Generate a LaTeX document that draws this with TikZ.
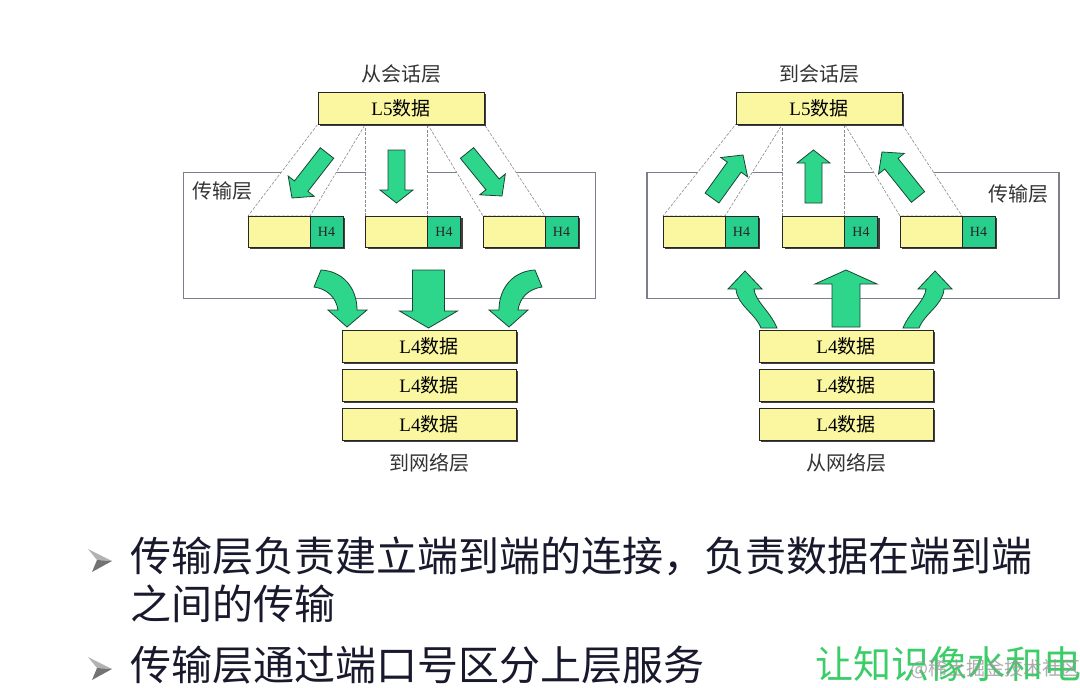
\documentclass[tikz,border=0pt]{standalone}
\usepackage{fontspec}
\setmainfont{Liberation Serif}
\newfontfamily\cjk{Noto Sans CJK SC}
\usetikzlibrary{calc, positioning, shadows, backgrounds}

\definecolor{boxyellow}{RGB}{250,247,160}
\definecolor{hdrgreen}{RGB}{40,206,140}
\definecolor{arrowgreen}{RGB}{46,214,140}
\definecolor{edgegreen}{RGB}{25,70,50}
\definecolor{layergray}{RGB}{125,125,140}
\definecolor{textnavy}{RGB}{25,25,45}
\definecolor{slogangreen}{RGB}{60,205,105}

\newcommand{\fatarrow}[5]{%
  \coordinate (fa) at ($(#2)!#5!(#1)$);
  \filldraw[fatgreen] ($(#1)!#3!90:(#2)$) -- ($(fa)!#3!-90:(#1)$) -- ($(fa)!#4!-90:(#1)$) -- (#2)
    -- ($(fa)!#4!90:(#1)$) -- ($(fa)!#3!90:(#1)$) -- ($(#1)!#3!-90:(#2)$) -- cycle;
}

\begin{document}
\begin{tikzpicture}[x=1pt, y=-1pt, node distance=0pt,
  databox/.style={draw=black!85, fill=boxyellow, line width=0.8pt, inner sep=0pt, outer sep=0pt,
    minimum height=32pt, font=\fontsize{19}{22}\selectfont,
    drop shadow={shadow xshift=2pt, shadow yshift=-2pt, fill=black!75, opacity=1}},
  partbox/.style={databox, minimum width=62pt, minimum height=31pt},
  hdrbox/.style={partbox, fill=hdrgreen, minimum width=33pt, font=\fontsize{14}{16}\selectfont, text=black!85},
  layerbox/.style={draw=layergray, line width=1.8pt, minimum width=412pt, minimum height=126pt, inner sep=0pt},
  lbl/.style={font=\cjk\fontsize{20}{24}\selectfont, text=black!80, inner sep=0pt},
  beam/.style={fill=white, draw=black!45, line width=0.6pt, dash pattern=on 3pt off 1.5pt},
  fatgreen/.style={fill=arrowgreen, draw=edgegreen, line width=0.8pt},
  bullettext/.style={font=\cjk\fontsize{41}{48}\selectfont, text=textnavy, inner sep=0pt, anchor=west},
  fallarrow/.pic={\filldraw[fatgreen] (0,0) -- (-19,-17) -- (-9,-17) .. controls (-11,-30) and (-20,-38) .. (-33,-40)
    -- (-26,-57) .. controls (-5,-56) and (10,-40) .. (10,-17) -- (20,-17) -- cycle;},
  risearrow/.pic={\filldraw[fatgreen] (0,0) -- (17,18) -- (9,18) .. controls (10,30) and (25,40) .. (32,57)
    -- (16,57) .. controls (10,42) and (-8,34) .. (-9,18) -- (-17,18) -- cycle;},
  bulletmark/.pic={\fill[black!30] (0,0) -- (24,12) -- (9,11) -- cycle;
    \fill[black!55] (9,11) -- (24,12) -- (4,23) -- cycle;}
]
\useasboundingbox (0,0) rectangle (1080,688);

\node[databox, minimum width=166pt] (l5a) at (401,108) {L5{\cjk 数据}};
\node[lbl, above=9pt of l5a] (sesa) {从会话层};
\node[lbl] (tpa) at (222,191) {传输层};
\node[partbox] (pa1) at (279,231.5) {};
\node[hdrbox, right=of pa1] (ha1) {H4};
\node[partbox] (pa2) at (396.5,231.5) {};
\node[hdrbox, right=of pa2] (ha2) {H4};
\node[partbox] (pa3) at (514,231.5) {};
\node[hdrbox, right=of pa3] (ha3) {H4};
\node[databox, minimum width=174pt] (qa1) at (429,346) {L4{\cjk 数据}};
\node[databox, minimum width=174pt, below=7pt of qa1] (qa2) {L4{\cjk 数据}};
\node[databox, minimum width=174pt, below=7pt of qa2] (qa3) {L4{\cjk 数据}};
\node[lbl, below=13pt of qa3] (neta) {到网络层};

\node[databox, minimum width=166pt] (l5b) at (819,108) {L5{\cjk 数据}};
\node[lbl, above=9pt of l5b] (sesb) {到会话层};
\node[lbl] (tpb) at (1018,194) {传输层};
\node[partbox] (pb1) at (694,231.5) {};
\node[hdrbox, right=of pb1] (hb1) {H4};
\node[partbox] (pb2) at (813.5,231.5) {};
\node[hdrbox, right=of pb2] (hb2) {H4};
\node[partbox] (pb3) at (931,231.5) {};
\node[hdrbox, right=of pb3] (hb3) {H4};
\node[databox, minimum width=174pt] (qb1) at (846,346) {L4{\cjk 数据}};
\node[databox, minimum width=174pt, below=7pt of qb1] (qb2) {L4{\cjk 数据}};
\node[databox, minimum width=174pt, below=7pt of qb2] (qb3) {L4{\cjk 数据}};
\node[lbl, below=13pt of qb3] (netb) {从网络层};

\begin{pgfonlayer}{background}
\node[layerbox] (tla) at (389.5,235.5) {};
\node[layerbox] (tlb) at (853,235.5) {};
\draw[beam] (l5a.south west) -- (pa2.north west |- l5a.south) -- (pa1.north east) -- (pa1.north west) -- cycle;
\draw[beam] (pa2.north west |- l5a.south) -- (pa2.north east |- l5a.south) -- (pa2.north east) -- (pa2.north west) -- cycle;
\draw[beam] (pa2.north east |- l5a.south) -- (l5a.south east) -- (pa3.north east) -- (pa3.north west) -- cycle;
\draw[beam] (l5b.south west) -- (pb2.north west |- l5b.south) -- (pb1.north east) -- (pb1.north west) -- cycle;
\draw[beam] (pb2.north west |- l5b.south) -- (pb2.north east |- l5b.south) -- (pb2.north east) -- (pb2.north west) -- cycle;
\draw[beam] (pb2.north east |- l5b.south) -- (l5b.south east) -- (pb3.north east) -- (pb3.north west) -- cycle;
\end{pgfonlayer}

\fatarrow{327,153}{292,198}{8.5pt}{16.5pt}{15pt}
\fatarrow{396.5,150}{396.5,203}{8.5pt}{16.5pt}{13pt}
\fatarrow{467,153}{502,196}{8.5pt}{16.5pt}{15pt}
\pic at (347,327) {fallarrow};
\fatarrow{428.5,270}{428.5,328}{16pt}{29pt}{17pt}
\pic[xscale=-1] at (509,327) {fallarrow};

\fatarrow{712,198}{743,155}{8.5pt}{16.5pt}{15pt}
\fatarrow{813.5,203}{813.5,150}{8.5pt}{16.5pt}{13pt}
\fatarrow{918,197}{882,152}{8.5pt}{16.5pt}{15pt}
\pic at (745,271) {risearrow};
\fatarrow{846,327}{846,270}{14pt}{31pt}{14pt}
\pic[xscale=-1] at (935,271) {risearrow};

\pic at (88,549) {bulletmark};
\node[bullettext] (pt1) at (130,556) {传输层负责建立端到端的连接，负责数据在端到端};
\node[bullettext] (pt1b) at (130,604) {之间的传输};
\pic at (88,657) {bulletmark};
\node[bullettext] (pt2) at (130,665) {传输层通过端口号区分上层服务};
\node[anchor=west, inner sep=0pt, font=\cjk\fontsize{38}{44}\selectfont, text=slogangreen] (slogan) at (815,664) {让知识像水和电};
\node[anchor=west, inner sep=0pt, font=\cjk\fontsize{19}{22}\selectfont, text=black!40, opacity=0.8] (mark) at (910,669) {@稀土掘金技术社区};
\end{tikzpicture}
\end{document}
